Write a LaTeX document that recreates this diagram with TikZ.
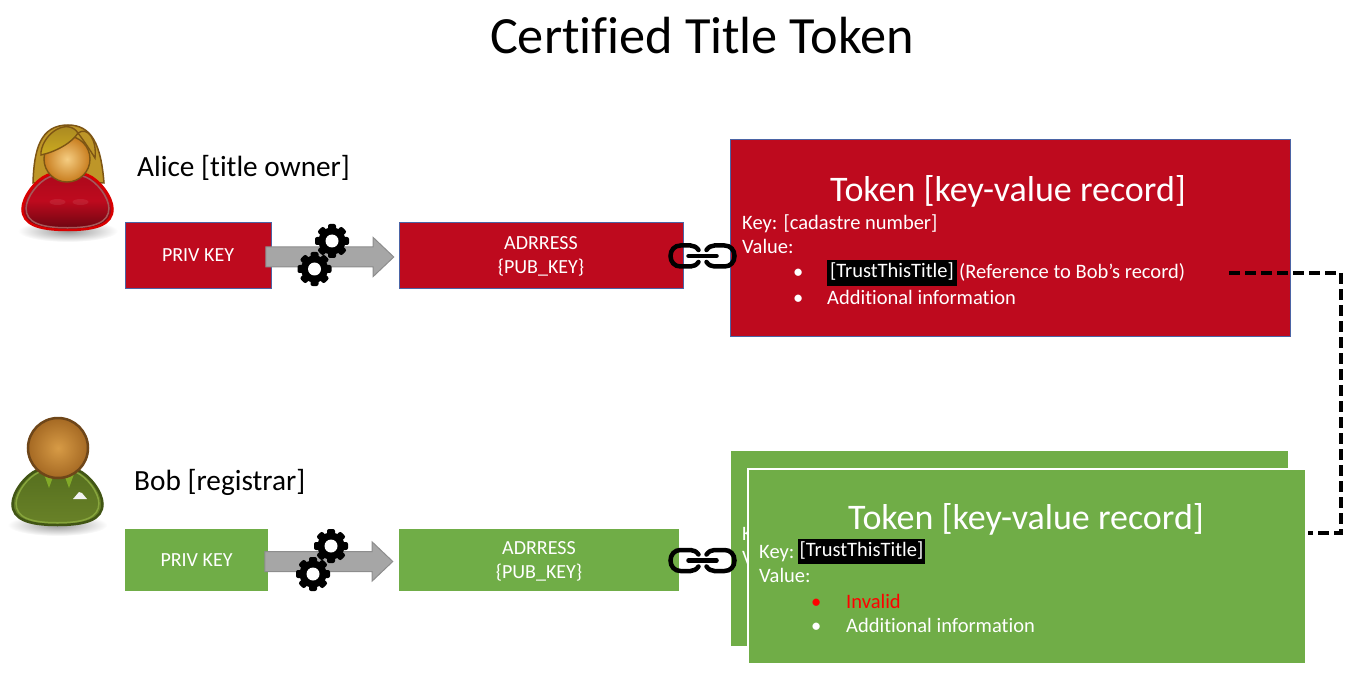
\documentclass[tikz,border=0pt]{standalone}
\usepackage{fontspec}
\setmainfont[Ligatures=NoCommon]{Carlito}
\usetikzlibrary{shapes.arrows}

\definecolor{tokenred}{RGB}{190,10,30}
\definecolor{tokengreen}{RGB}{112,173,71}
\definecolor{edgeblue}{RGB}{75,100,165}
\definecolor{arrowgray}{RGB}{166,166,166}
\definecolor{hairgold}{RGB}{190,150,40}
\definecolor{hairedge}{RGB}{125,85,20}
\definecolor{facelight}{RGB}{245,205,130}
\definecolor{facedark}{RGB}{200,125,30}
\definecolor{headlight}{RGB}{215,155,70}
\definecolor{headdark}{RGB}{165,105,35}
\definecolor{headedge}{RGB}{110,70,25}
\definecolor{suitedge}{RGB}{65,85,20}
\definecolor{suitdark}{RGB}{85,110,30}
\definecolor{suitlight}{RGB}{105,130,40}
\definecolor{suitline}{RGB}{135,165,60}
\definecolor{collar}{RGB}{130,170,40}

\tikzset{
  redbox/.style={fill=tokenred,draw=edgeblue,line width=1pt,inner sep=0pt,text=white,align=center,font=\fontsize{20}{24}\selectfont},
  greenbox/.style={fill=tokengreen,inner sep=0pt,text=white,align=center,font=\fontsize{20}{24}\selectfont},
  boxtext/.style={inner sep=0pt,text=white,align=center,font=\fontsize{20}{24}\selectfont},
  keyarrow/.style={single arrow,fill=arrowgray,draw=arrowgray!85!black,line width=1pt,inner sep=0pt,text height=19pt,text depth=0pt,minimum width=38pt,minimum height=128pt,single arrow head extend=9.5pt,single arrow tip angle=87,single arrow head indent=0pt},
  tokentitle/.style={text=white,inner sep=0pt,font=\fontsize{36}{40}\selectfont},
  recordline/.style={anchor=west,text=white,inner sep=0pt,text height=15pt,text depth=5pt,font=\fontsize{20.5}{24}\selectfont},
  trustmark/.style={fill=black,text=white,inner sep=0pt,text height=15pt,text depth=5pt,minimum height=25pt,font=\fontsize{20.5}{24}\selectfont},
  person/.style={anchor=west,inner sep=0pt,font=\fontsize{29.3}{34}\selectfont},
  gearicon/.pic={
    \foreach \a in {0,45,...,135} {
      \fill[black,rotate=\a,rounded corners=2pt] (-4,-17) rectangle (4,17);
    }
    \fill[black] (0,0) circle (13.5);
    \fill[white] (0,0) circle (6.5);
  },
  chainicon/.pic={
    \foreach \s in {1,-1} {
      \draw[xscale=\s,line width=4.5pt,line cap=round] (-4,-6) .. controls (-6,-9) and (-9,-10.5) .. (-12,-10.5) -- (-22,-10.5) .. controls (-28,-10.5) and (-32,-6) .. (-32,0) .. controls (-32,6) and (-28,10.5) .. (-22,10.5) -- (-12,10.5) .. controls (-9,10.5) and (-6,9) .. (-4,6);
    }
    \draw[line width=4.5pt,line cap=round] (-14,0) -- (14,0);
  },
}

\newcommand{\bodyblob}{(-20,-27) .. controls (-32,-22) and (-45,-5) .. (-45,7) .. controls (-45,22) and (-30,28) .. (0,28) .. controls (30,28) and (45,22) .. (45,7) .. controls (45,-5) and (32,-22) .. (20,-27) .. controls (10,-31) and (-10,-31) .. (-20,-27) -- cycle}

\begin{document}
\begin{tikzpicture}[x=1pt,y=-1pt]
\useasboundingbox (0,0) rectangle (1370,676);

\node[inner sep=0pt,font=\fontsize{52.3}{56}\selectfont] (title) at (702,36) {Certified Title Token};

\shade[inner color=black!40,outer color=white] (68,231) ellipse (50 and 11);
\fill[hairgold,draw=hairedge,line width=1.5pt] (33,183) .. controls (34,150) and (40,125) .. (68,125) .. controls (92,125) and (101,145) .. (104,183) -- cycle;
\begin{scope}[shift={(67.5,202)}]
\draw[draw=red!85!black,line width=2.5pt,top color=tokenred!90!black,bottom color=tokenred!55!black,middle color=tokenred] \bodyblob;
\draw[red!30!gray,line width=1.5pt,scale=.92] \bodyblob;
\fill[white,opacity=.08] (-10,0) ellipse (8 and 3);
\fill[white,opacity=.08] (13,0) ellipse (8 and 3);
\end{scope}
\shade[draw=hairedge,line width=1.4pt,inner color=facelight,outer color=facedark] (67,159) circle (23);
\fill[draw=hairedge,line width=1.4pt,top color=hairgold!85!black,bottom color=hairgold!80!yellow] (41,152) .. controls (44,132) and (68,118) .. (78,133) .. controls (72,143) and (55,152) .. (41,155) -- cycle;
\fill[hairgold,draw=hairedge,line width=1.4pt] (78,133) .. controls (88,126) and (97,140) .. (95,158) .. controls (90,150) and (84,141) .. (78,133) -- cycle;
\node[person] (alice) at (137,168) {Alice [title owner]};

\node[redbox,minimum width=146pt,minimum height=65pt] (privalice) at (198,255.5) {PRIV KEY};
\node[redbox,minimum width=284pt,minimum height=65pt] (addralice) at (541,255.5) {};
\node[boxtext] (addrtextalice) at (541,256.5) {ADRRESS\\\{PUB\_KEY\}};
\node[keyarrow] (arrowalice) at (324.5,257) {};
\pic at (332,241) {gearicon};
\pic at (314.5,269) {gearicon};

\node[redbox,minimum width=560pt,minimum height=196pt] (tokenalice) at (1010,238) {};
\node[tokentitle] (titlealice) at (1008,191) {Token [key-value record]};
\node[recordline] (keyalice) at (742,225) {Key: [cadastre number]};
\node[recordline] (valuealice) at (742,249) {Value:};
\node[recordline] (dotone) at (793,274) {•};
\node[trustmark,minimum width=130pt] (trustalice) at (892,273) {[TrustThisTitle]};
\node[recordline] (refbob) at (959,274) {(Reference to Bob’s record)};
\node[recordline] (dottwo) at (793,299) {•};
\node[recordline] (infoalice) at (827,299) {Additional information};
\pic at (702.5,256) {chainicon};

\shade[inner color=black!40,outer color=white] (57.5,525) ellipse (50 and 11);
\begin{scope}[shift={(57.5,497)}]
\draw[draw=suitedge,line width=2.5pt,top color=suitdark,bottom color=suitlight] \bodyblob;
\draw[suitline,line width=1.5pt,scale=.92] \bodyblob;
\end{scope}
\fill[collar] (44,474) -- (54,474) -- (49,488) -- cycle;
\fill[collar] (64,474) -- (74,474) -- (69,488) -- cycle;
\fill[white!90!gray] (73,499) -- (79,492) -- (82,493) -- (87,499) -- cycle;
\shade[draw=headedge,line width=2.5pt,inner color=headlight,outer color=headdark] (58,448) circle (30);
\node[person] (bob) at (134,482) {Bob [registrar]};

\node[greenbox,minimum width=143pt,minimum height=62pt] (privbob) at (196.5,560) {PRIV KEY};
\node[greenbox,minimum width=280pt,minimum height=62pt] (addrbob) at (539,560) {};
\node[boxtext] (addrtextbob) at (539,561) {ADRRESS\\\{PUB\_KEY\}};
\node[keyarrow] (arrowbob) at (323.5,561.5) {};
\pic at (331,546) {gearicon};
\pic at (313,574) {gearicon};

\node[greenbox,minimum width=557pt,minimum height=195pt] (tokenback) at (1009.5,548.5) {};
\node[recordline] (keyback) at (742,535) {K};
\node[recordline] (valueback) at (742,559) {V};
\pic at (702.5,560.5) {chainicon};

\node[greenbox,draw=white,line width=2pt,minimum width=558pt,minimum height=195pt] (tokenbob) at (1027,566) {};
\node[tokentitle] (titlebob) at (1026,519) {Token [key-value record]};
\node[recordline] (keybob) at (759,553) {Key:};
\node[trustmark,minimum width=127pt] (trustbob) at (861.5,551.5) {[TrustThisTitle]};
\node[recordline] (valuebob) at (759,577) {Value:};
\node[recordline,text=red] (dotthree) at (811,603) {•};
\node[recordline,text=red] (invalid) at (846,603) {Invalid};
\node[recordline] (dotfour) at (811,627) {•};
\node[recordline] (infobob) at (846,627) {Additional information};

\coordinate (refstart) at (1229,273);
\coordinate (refcorner) at (1341,273);
\coordinate (refdown) at (1341,533);
\coordinate (refend) at (1308,533);
\draw[line width=4pt,dash pattern=on 11pt off 5pt] (refstart) -- (refcorner) -- (refdown) -- (refend);

\end{tikzpicture}
\end{document}
